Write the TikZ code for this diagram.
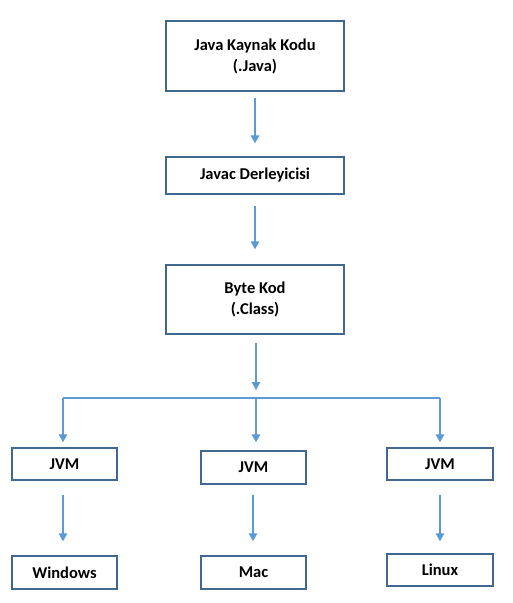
\documentclass[tikz,border=0pt]{standalone}
\usepackage{fontspec}
\setmainfont{Carlito}
\usetikzlibrary{arrows.meta}
\definecolor{boxline}{HTML}{41698F}
\definecolor{arrowc}{HTML}{5B9BD5}
\begin{document}
\begin{tikzpicture}[x=1pt,y=-1pt,
  box/.style={draw=boxline,line width=1.4pt,fill=white,inner sep=0pt,align=center,
    font=\fontsize{16.5}{21}\selectfont\bfseries},
  conn/.style={draw=arrowc,line width=1.3pt,-{Triangle[length=8pt,width=8.5pt]}},
  bus/.style={draw=arrowc,line width=1.3pt}]
\useasboundingbox (0,0) rectangle (512,603);
\node[box,minimum width=178pt,minimum height=70pt] (src) at (255,56) {Java Kaynak Kodu\\(.Java)};
\node[box,minimum width=178pt,minimum height=37pt] (javac) at (255,175.5) {Javac Derleyicisi};
\node[box,minimum width=178pt,minimum height=69pt] (byte) at (255,299.5) {Byte Kod\\(.Class)};
\node[box,minimum width=105pt,minimum height=32pt] (jvm1) at (64.5,464) {JVM};
\node[box,minimum width=105pt,minimum height=33pt] (jvm2) at (253.5,467.5) {JVM};
\node[box,minimum width=106pt,minimum height=32pt] (jvm3) at (440,464) {JVM};
\node[box,minimum width=105pt,minimum height=33pt] (win) at (64.5,572.5) {Windows};
\node[box,minimum width=105pt,minimum height=33pt] (mac) at (253.5,572.5) {Mac};
\node[box,minimum width=106pt,minimum height=32pt] (lin) at (440,570) {Linux};
\coordinate (bl) at (63,398);
\coordinate (bm) at (256,398);
\coordinate (br) at (440,398);
\coordinate (ml) at (253,480);
\draw[conn,shorten <=6pt,shorten >=13pt] (src.south) -- (javac.north);
\draw[conn,shorten <=11pt,shorten >=15pt] (javac.south) -- (byte.north);
\draw[conn,shorten <=8pt,shorten >=8pt] (byte.south -| bm) -- (bm);
\draw[bus] (bl) -- (br);
\draw[conn,shorten >=5pt] (bl) -- (bl |- jvm1.north);
\draw[conn,shorten >=8pt] (bm) -- (bm |- jvm2.north);
\draw[conn,shorten >=5pt] (br) -- (br |- jvm3.north);
\draw[conn,shorten <=14pt,shorten >=14pt] (jvm1.south -| bl) -- (bl |- win.north);
\draw[conn,shorten <=10pt,shorten >=14pt] (jvm2.south -| ml) -- (ml |- mac.north);
\draw[conn,shorten <=14pt,shorten >=12pt] (jvm3.south -| br) -- (br |- lin.north);
\end{tikzpicture}
\end{document}
